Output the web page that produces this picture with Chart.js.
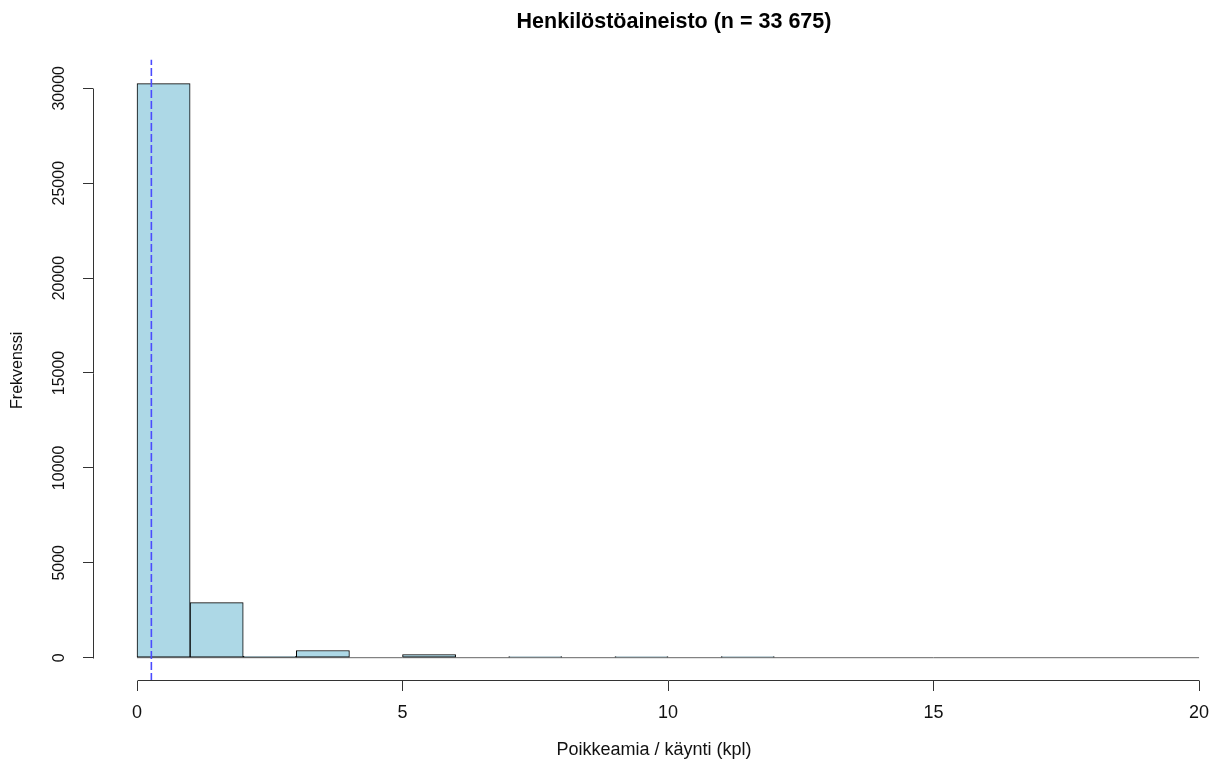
<!DOCTYPE html>
<html>
<head>
<meta charset="utf-8">
<script src="https://cdn.jsdelivr.net/npm/chart.js@4.4.0/dist/chart.umd.min.js"></script>
<style>
html,body{margin:0;padding:0;background:#ffffff;}
canvas{display:block;}
</style>
</head>
<body>
<canvas id="c" width="1215" height="765"></canvas>
<script>
// ---- data ----
const chartTitle = 'Henkilöstöaineisto (n = 33 675)';
const xTitle = 'Poikkeamia / käynti (kpl)';
const yTitle = 'Frekvenssi';
const binStarts = [0, 1, 2, 3, 4, 5, 6, 7, 8, 9, 10, 11, 12, 13, 14, 15, 16, 17, 18, 19];
const binEnds   = [1, 2, 3, 4, 5, 6, 7, 8, 9, 10, 11, 12, 13, 14, 15, 16, 17, 18, 19, 20];
const counts    = [30250, 2900, 70, 380, 0, 160, 0, 60, 0, 60, 0, 60, 0, 0, 0, 0, 0, 0, 0, 0];
const meanValue = 0.27;
const xTicks = [0, 5, 10, 15, 20];
const yTicks = [0, 5000, 10000, 15000, 20000, 25000, 30000];

// plot region (R-style extended ranges)
const X_MIN = -0.829, X_MAX = 20.30;
const Y_MIN = -1228, Y_MAX = 31512;
const TITLE_CENTER_X = 674;

const FONT = "'Liberation Sans', Arial, Helvetica, sans-serif";
Chart.defaults.font.family = FONT;
Chart.defaults.color = '#000';

const histData = binStarts.map((s, i) => ({ x: (s + binEnds[i]) / 2, y: counts[i] }));

const rAxes = {
  id: 'rAxes',
  afterLayout(chart) {
    const tb = chart.titleBlock;
    if (tb) {
      const half = 500;
      tb.left = TITLE_CENTER_X - half;
      tb.right = TITLE_CENTER_X + half;
    }
  },
  beforeDatasetsDraw(chart) {
    const { ctx, scales: { x, y } } = chart;
    ctx.save();
    ctx.strokeStyle = '#666';
    ctx.lineWidth = 1;
    const by = y.getPixelForValue(0);
    ctx.beginPath();
    ctx.moveTo(x.getPixelForValue(binStarts[0]), by);
    ctx.lineTo(x.getPixelForValue(binEnds[binEnds.length - 1]), by);
    ctx.stroke();
    ctx.restore();
  },
  afterDraw(chart) {
    const { ctx, scales: { x, y }, chartArea } = chart;
    ctx.save();
    ctx.strokeStyle = '#333';
    ctx.lineWidth = 1;
    // y axis line from first to last tick
    const ax = Math.round(chartArea.left) + 0.5;
    ctx.beginPath();
    ctx.moveTo(ax, Math.round(y.getPixelForValue(yTicks[0])) + 0.5);
    ctx.lineTo(ax, Math.round(y.getPixelForValue(yTicks[yTicks.length - 1])) + 0.5);
    ctx.stroke();
    // x axis line from first to last tick
    const ay = Math.round(chartArea.bottom) - 0.5;
    ctx.beginPath();
    ctx.moveTo(Math.round(x.getPixelForValue(xTicks[0])) + 0.5, ay);
    ctx.lineTo(Math.round(x.getPixelForValue(xTicks[xTicks.length - 1])) + 0.5, ay);
    ctx.stroke();
    ctx.restore();
  }
};

new Chart(document.getElementById('c'), {
  type: 'bar',
  data: {
    datasets: [
      {
        type: 'line',
        label: 'Keskiarvo',
        data: [{ x: meanValue, y: Y_MIN }, { x: meanValue, y: Y_MAX }],
        borderColor: '#4B4BFF',
        borderWidth: 1.6,
        borderDash: [8, 3],
        pointRadius: 0,
        fill: false,
        order: 1
      },
      {
        type: 'bar',
        label: 'Frekvenssi',
        data: histData,
        backgroundColor: '#ADD8E6',
        borderColor: '#000',
        borderWidth: 1,
        borderSkipped: false,
        barPercentage: 1,
        categoryPercentage: 1,
        base: 0,
        order: 2
      }
    ]
  },
  options: {
    responsive: false,
    devicePixelRatio: 1,
    animation: false,
    layout: { padding: { left: 0, right: 0, top: 0, bottom: 0 } },
    plugins: {
      legend: { display: false },
      tooltip: { enabled: false },
      title: {
        display: true,
        text: chartTitle,
        color: '#000',
        font: { family: FONT, size: 21.5, weight: 'bold' },
        padding: { top: 8.9, bottom: 24.9 }
      }
    },
    scales: {
      x: {
        type: 'linear',
        min: X_MIN,
        max: X_MAX,
        offset: false,
        border: { display: false },
        grid: { display: true, drawOnChartArea: false, drawTicks: true, tickLength: 10, color: '#333', tickColor: '#333', offset: false },
        ticks: { font: { size: 18 }, color: '#111', padding: 11, maxRotation: 0, minRotation: 0 },
        afterBuildTicks: (s) => { s.ticks = xTicks.map(v => ({ value: v })); },
        afterFit: (s) => { s.height = 84; s.paddingLeft = 0; s.paddingRight = 0; },
        title: { display: true, text: xTitle, color: '#111', font: { size: 18 }, padding: { top: 0, bottom: 4.2 } }
      },
      y: {
        type: 'linear',
        min: Y_MIN,
        max: Y_MAX,
        border: { display: false },
        grid: { display: true, drawOnChartArea: false, drawTicks: true, tickLength: 10, color: '#333', tickColor: '#333' },
        ticks: { font: { size: 16 }, color: '#111', padding: 1, minRotation: 90, maxRotation: 90, crossAlign: 'center', callback: (v) => String(v) },
        afterBuildTicks: (s) => { s.ticks = yTicks.map(v => ({ value: v })); },
        afterFit: (s) => { s.width = 93; s.paddingTop = 0; s.paddingBottom = 0; },
        title: { display: true, text: yTitle, color: '#111', font: { size: 16 }, padding: { top: 8.4, bottom: 0 } }
      }
    }
  },
  plugins: [rAxes]
});
</script>
</body>
</html>
